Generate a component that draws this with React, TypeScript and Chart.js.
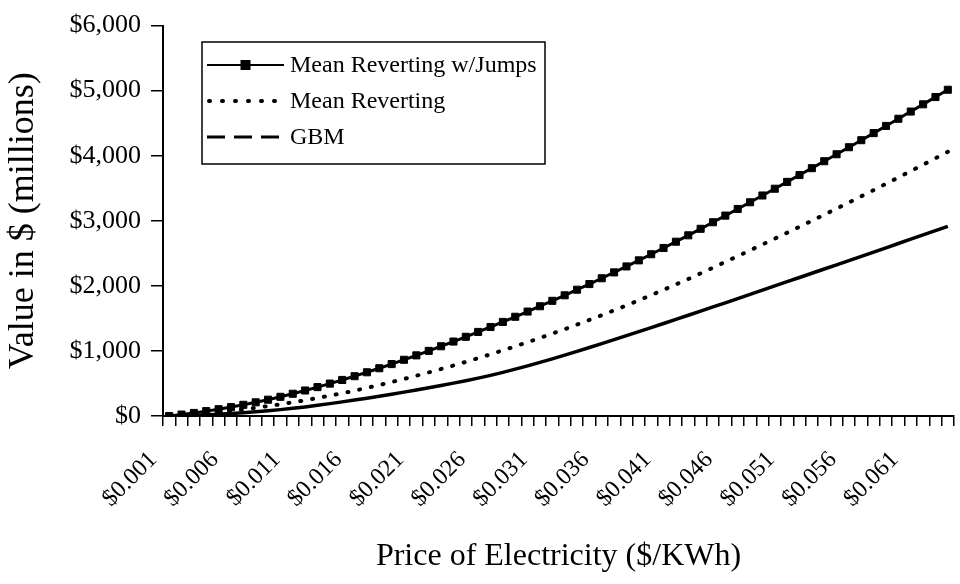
import React, { useEffect, useRef } from "react";
import { Chart, registerables } from "chart.js";

Chart.register(...registerables);

const prices = [
  "$0.001", "$0.002", "$0.003", "$0.004", "$0.005", "$0.006", "$0.007", "$0.008", "$0.009", "$0.010",
  "$0.011", "$0.012", "$0.013", "$0.014", "$0.015", "$0.016", "$0.017", "$0.018", "$0.019", "$0.020",
  "$0.021", "$0.022", "$0.023", "$0.024", "$0.025", "$0.026", "$0.027", "$0.028", "$0.029", "$0.030",
  "$0.031", "$0.032", "$0.033", "$0.034", "$0.035", "$0.036", "$0.037", "$0.038", "$0.039", "$0.040",
  "$0.041", "$0.042", "$0.043", "$0.044", "$0.045", "$0.046", "$0.047", "$0.048", "$0.049", "$0.050",
  "$0.051", "$0.052", "$0.053", "$0.054", "$0.055", "$0.056", "$0.057", "$0.058", "$0.059", "$0.060",
  "$0.061", "$0.062", "$0.063", "$0.064",
];

const meanRevertingJumps = [
  0, 22, 47, 75, 105, 137, 172, 210, 251, 295,
  342, 392, 444, 498, 554, 612, 672, 734, 798, 864,
  932, 1001, 1072, 1144, 1217, 1292, 1368, 1446, 1525, 1605,
  1687, 1770, 1855, 1941, 2028, 2117, 2207, 2299, 2392, 2486,
  2582, 2679, 2777, 2877, 2978, 3080, 3182, 3285, 3389, 3493,
  3598, 3703, 3809, 3916, 4023, 4131, 4239, 4348, 4458, 4568,
  4679, 4790, 4902, 5014,
];

const meanReverting = [
  0, 12, 26, 42, 60, 80, 102, 126, 152, 180,
  210, 242, 276, 312, 350, 390, 432, 476, 522, 570,
  619, 670, 722, 776, 832, 889, 948, 1008, 1070, 1134,
  1199, 1266, 1334, 1404, 1476, 1549, 1624, 1700, 1778, 1858,
  1939, 2022, 2106, 2192, 2280, 2369, 2457, 2546, 2636, 2726,
  2817, 2909, 3001, 3094, 3188, 3282, 3377, 3473, 3569, 3666,
  3764, 3862, 3961, 4061,
];

const gbm = [
  0, 4, 10, 17, 26, 37, 50, 64, 80, 98,
  118, 140, 164, 190, 217, 245, 274, 304, 335, 367,
  400, 434, 469, 505, 542, 582, 625, 671, 720, 771,
  824, 879, 936, 994, 1053, 1113, 1174, 1235, 1297, 1359,
  1422, 1485, 1548, 1612, 1676, 1740, 1804, 1869, 1934, 1999,
  2064, 2129, 2194, 2259, 2324, 2389, 2454, 2519, 2585, 2651,
  2717, 2783, 2849, 2915,
];

const seriesNames = ["Mean Reverting w/Jumps", "Mean Reverting", "GBM"];
const yTitle = "Value in $ (millions)";
const xTitle = "Price of Electricity ($/KWh)";
const labelEvery = 5;

const FONT = "'Liberation Serif', 'Times New Roman', serif";

const legendPlugin = {
  id: "boxLegend",
  afterDatasetsDraw(chart: any) {
    const ctx = chart.ctx as CanvasRenderingContext2D;
    const x0 = 202, y0 = 42, w = 343, h = 122;
    ctx.save();
    ctx.fillStyle = "#fff";
    ctx.fillRect(x0, y0, w, h);
    ctx.strokeStyle = "#000";
    ctx.lineWidth = 1.5;
    ctx.strokeRect(x0, y0, w, h);
    const rows = [65, 101, 137];
    const lx0 = 207, lx1 = 284;
    ctx.font = `24px ${FONT}`;
    ctx.textBaseline = "middle";
    ctx.fillStyle = "#000";
    ctx.beginPath();
    ctx.setLineDash([]);
    ctx.lineWidth = 2;
    ctx.moveTo(lx0, rows[0]);
    ctx.lineTo(lx1, rows[0]);
    ctx.stroke();
    ctx.fillRect((lx0 + lx1) / 2 - 5, rows[0] - 5, 10, 10);
    ctx.beginPath();
    ctx.setLineDash([1, 12]);
    ctx.lineCap = "round";
    ctx.lineWidth = 4;
    ctx.moveTo(lx0 + 2, rows[1]);
    ctx.lineTo(lx1, rows[1]);
    ctx.stroke();
    ctx.beginPath();
    ctx.setLineDash([18, 9]);
    ctx.lineCap = "butt";
    ctx.lineWidth = 3;
    ctx.moveTo(lx0, rows[2]);
    ctx.lineTo(lx1, rows[2]);
    ctx.stroke();
    ctx.setLineDash([]);
    seriesNames.forEach((name, i) => {
      ctx.fillText(name, 290, rows[i] + 1);
    });
    ctx.restore();
  },
};

export default function App() {
  const canvasRef = useRef<HTMLCanvasElement | null>(null);

  useEffect(() => {
    document.body.style.margin = "0";
    const canvas = canvasRef.current!;
    const chart = new Chart(canvas, {
      type: "line",
      data: {
        labels: prices,
        datasets: [
          {
            label: seriesNames[2],
            data: gbm,
            borderColor: "#000",
            borderWidth: 3.5,
            pointRadius: 0,
            fill: false,
            tension: 0,
          },
          {
            label: seriesNames[1],
            data: meanReverting,
            borderColor: "#000",
            borderWidth: 4,
            borderDash: [1, 11],
            borderCapStyle: "round",
            pointRadius: 0,
            fill: false,
            tension: 0,
          },
          {
            label: seriesNames[0],
            data: meanRevertingJumps,
            borderColor: "#000",
            borderWidth: 3,
            pointStyle: "rect",
            pointRadius: 5,
            pointBackgroundColor: "#000",
            pointBorderColor: "#000",
            pointBorderWidth: 1,
            fill: false,
            tension: 0,
          },
        ],
      },
      options: {
        responsive: false,
        animation: false,
        layout: { padding: { top: 20, right: 2, left: 0, bottom: 0 } },
        plugins: {
          legend: { display: false },
          tooltip: { enabled: false },
        },
        scales: {
          x: {
            offset: true,
            grid: {
              offset: true,
              drawOnChartArea: false,
              drawTicks: true,
              tickLength: 10,
              color: "#000",
              lineWidth: 1.5,
            },
            border: { color: "#000", width: 2 },
            ticks: {
              autoSkip: false,
              minRotation: 45,
              maxRotation: 45,
              color: "#000",
              font: { family: FONT, size: 24 },
              padding: 20,
              labelOffset: -16,
              callback: (_v: any, i: number) => (i % labelEvery === 0 ? prices[i] : ""),
            },
            title: {
              display: true,
              text: xTitle,
              color: "#000",
              font: { family: FONT, size: 32 },
              padding: { top: 0, bottom: 8 },
            },
            afterFit: (scale: any) => {
              scale.height = 168;
              scale.paddingRight = 0;
              scale.paddingLeft = 0;
            },
          },
          y: {
            min: 0,
            max: 6000,
            ticks: {
              stepSize: 1000,
              color: "#000",
              font: { family: FONT, size: 26 },
              padding: 10,
              callback: (v: any) => "$" + Number(v).toLocaleString("en-US"),
            },
            grid: {
              drawOnChartArea: false,
              drawTicks: true,
              tickLength: 12,
              color: "#000",
              lineWidth: 1.5,
            },
            border: { color: "#000", width: 2 },
            title: {
              display: true,
              text: yTitle,
              color: "#000",
              font: { family: FONT, size: 36 },
              padding: { top: 2, bottom: 0 },
            },
            afterFit: (scale: any) => {
              scale.width = 163;
            },
          },
        },
      },
      plugins: [legendPlugin],
    });
    return () => chart.destroy();
  }, []);

  return (
    <div style={{ width: 960, height: 584, background: "#fff" }}>
      <canvas ref={canvasRef} width={960} height={584} />
    </div>
  );
}
